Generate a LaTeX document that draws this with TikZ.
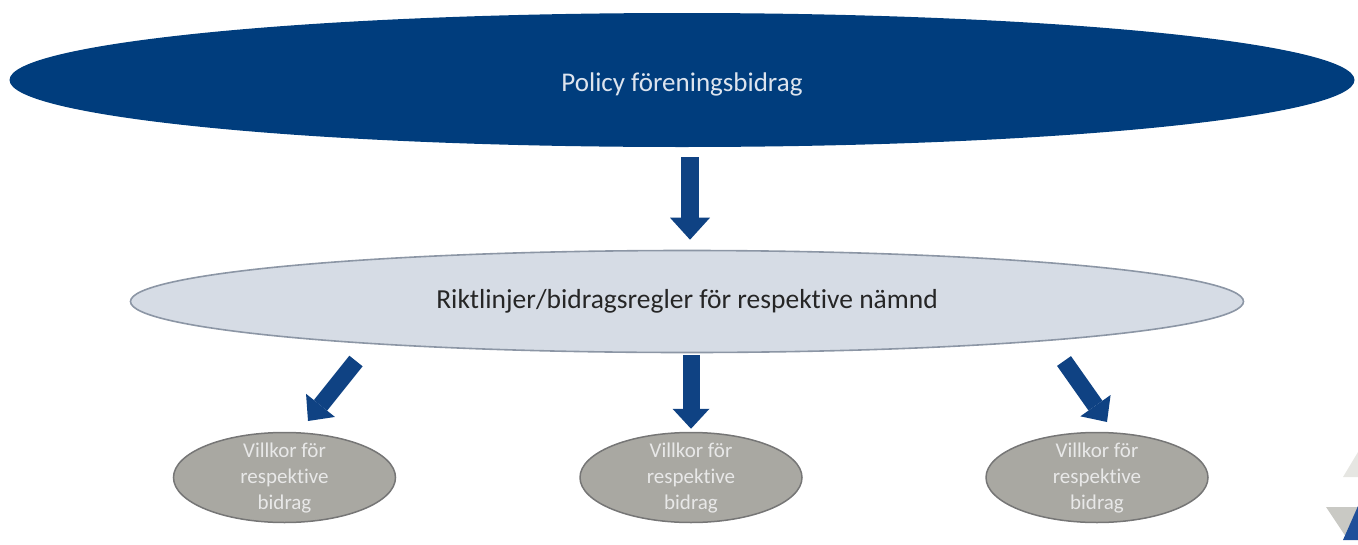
\documentclass[tikz,border=0pt]{standalone}
\usepackage{fontspec}
\setmainfont[Ligatures=NoCommon]{Carlito}
\usetikzlibrary{shapes.geometric,arrows.meta}
\definecolor{navy}{HTML}{003D7D}
\definecolor{arrowblue}{HTML}{0F4283}
\definecolor{toptext}{HTML}{DDE4EE}
\definecolor{midfill}{HTML}{D6DCE5}
\definecolor{midline}{HTML}{8C96A5}
\definecolor{midtext}{HTML}{262626}
\definecolor{smallfill}{HTML}{A9A8A2}
\definecolor{smallline}{HTML}{767676}
\definecolor{smalltext}{HTML}{E8E8E8}
\definecolor{cornerlight}{HTML}{E6E6E2}
\definecolor{cornergray}{HTML}{C9C9C4}
\definecolor{cornerblue}{HTML}{1F4F9A}
\begin{document}
\begin{tikzpicture}[x=1pt,y=-1pt,
  bigell/.style={ellipse, fill=navy, draw=none, minimum width=1345pt, minimum height=134pt, inner sep=0pt},
  toptxt/.style={text=toptext, font=\fontsize{27}{32}\selectfont, inner sep=0pt},
  midell/.style={ellipse, fill=midfill, draw=midline, line width=1.6pt, minimum width=1113pt, minimum height=102pt, inner sep=0pt, text=midtext, font=\fontsize{27.5}{33}\selectfont},
  smallell/.style={ellipse, fill=smallfill, draw=smallline, line width=1.5pt, minimum width=222pt, minimum height=90pt, inner sep=0pt},
  smalltxt/.style={align=center, text=smalltext, font=\fontsize{21}{26}\selectfont, inner sep=0pt},
  fatarrow/.style={draw=arrowblue, line width=18pt, -{Triangle[width=40pt,length=22pt,line width=0pt]}},
  fatarrowb/.style={draw=arrowblue, line width=17pt, -{Triangle[width=37pt,length=20pt,line width=0pt]}}
]
\useasboundingbox (0,0) rectangle (1358,544);

\node[bigell] (top) at (682,80) {};
\node[toptxt] (toplabel) at ([yshift=-4pt]top.center) {Policy föreningsbidrag};
\node[midell] (mid) at (687,301.5) {Riktlinjer/bidragsregler för respektive nämnd};

\node[smallell] (v1) at (284.5,477.5) {};
\node[smallell] (v2) at (691,477.5) {};
\node[smallell] (v3) at (1097,477.5) {};
\node[smalltxt] (t1) at ([yshift=-1pt]v1.center) {Villkor för\\respektive\\bidrag};
\node[smalltxt] (t2) at ([yshift=-1pt]v2.center) {Villkor för\\respektive\\bidrag};
\node[smalltxt] (t3) at ([yshift=-1pt]v3.center) {Villkor för\\respektive\\bidrag};

\draw[fatarrow] ([shift={(8,10)}]top.south) -- ([shift={(3,-10)}]mid.north);
\draw[fatarrowb] ([shift={(4,2)}]mid.south) -- ([shift={(0,-3)}]v2.north);

\coordinate (l1) at (356,361);
\coordinate (l2) at (308,421);
\coordinate (r1) at (1064,361);
\coordinate (r2) at (1107,422);
\draw[fatarrowb] (l1) -- (l2);
\draw[fatarrowb] (r1) -- (r2);

% corner decoration
\fill[cornerlight] (1343,477) -- (1358,452) -- (1358,477) -- cycle;
\fill[cornergray] (1326,507) -- (1370,507) -- (1348,540) -- cycle;
\fill[cornerblue] (1343,540) -- (1358,506) -- (1358,540) -- cycle;
\end{tikzpicture}
\end{document}
